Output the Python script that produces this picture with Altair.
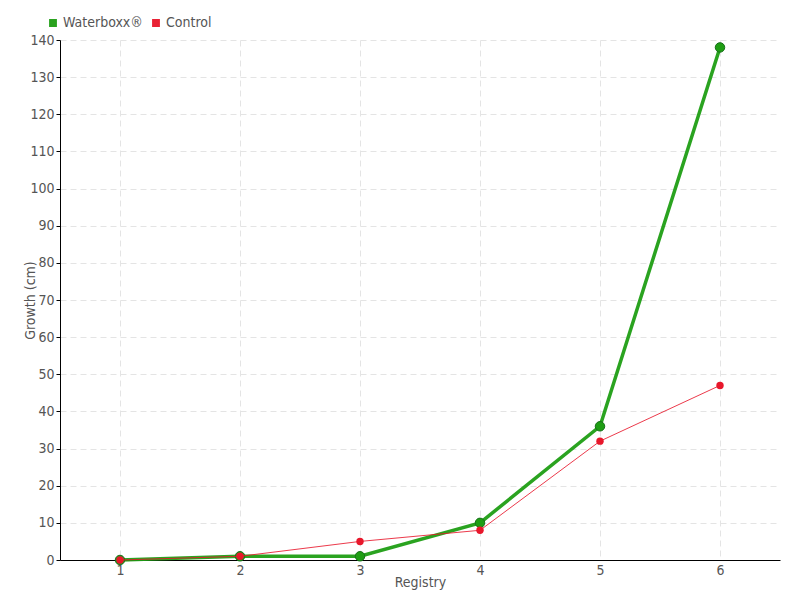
import altair as alt
import pandas as pd

registry = [1, 2, 3, 4, 5, 6]
waterboxx = [0, 1, 1, 10, 36, 138]
control = [0, 1, 5, 8, 32, 47]
series_names = ["Waterboxx®", "Control"]
colors = ["#1f9e14", "#e8172b"]

rows = []
for r, w, c in zip(registry, waterboxx, control):
    rows.append({"Registry": r, "Growth": w, "Series": series_names[0]})
    rows.append({"Registry": r, "Growth": c, "Series": series_names[1]})
df = pd.DataFrame(rows)

FONT = "DejaVu Sans Condensed"

x = alt.X("Registry:Q", scale=alt.Scale(domain=[0.5, 6.5], nice=False, zero=False),
          axis=alt.Axis(values=registry, title="Registry", grid=True, tickSize=0,
                        format="d", labelPadding=3, titlePadding=-2))
y = alt.Y("Growth:Q", scale=alt.Scale(domain=[0, 140], nice=False),
          axis=alt.Axis(values=list(range(0, 141, 10)), title="Growth (cm)", tickSize=4,
                        titlePadding=-8))
color = alt.Color("Series:N", scale=alt.Scale(domain=series_names, range=colors),
                  legend=alt.Legend(title=None, orient="none", legendX=-14, legendY=-24,
                                    direction="horizontal", symbolType="square",
                                    symbolSize=40, labelFontSize=14, labelColor="#555",
                                    labelFont=FONT, columnPadding=6, symbolOffset=0,
                                    labelOffset=3))

wb = df[df.Series == series_names[0]]
ct = df[df.Series == series_names[1]]

base_w = alt.Chart(wb).encode(x=x, y=y, color=color)
base_c = alt.Chart(ct).encode(x=x, y=y, color=color)

line_w = base_w.mark_line(strokeWidth=3.5, opacity=0.95)
pts_w = base_w.mark_circle(size=90, opacity=1, stroke="#17701a", strokeWidth=1)
line_c = base_c.mark_line(strokeWidth=1, opacity=0.85)
pts_c = base_c.mark_circle(size=55, opacity=1)

chart = alt.layer(line_w, pts_w, line_c, pts_c).properties(
    width=720, height=520,
    autosize=alt.AutoSizeParams(type="none"),
    padding={"left": 52, "top": 32, "right": 12, "bottom": 40},
).configure_view(stroke=None).configure_axis(
    labelFont=FONT, titleFont=FONT, labelFontSize=14, titleFontSize=14,
    labelColor="#555", titleColor="#555", titleFontWeight="normal",
    domainColor="#000", tickColor="#000", gridColor="#e4e4e4", gridDash=[6, 4],
)

chart.save("out.html", embed_options={"renderer": "svg", "actions": False})
